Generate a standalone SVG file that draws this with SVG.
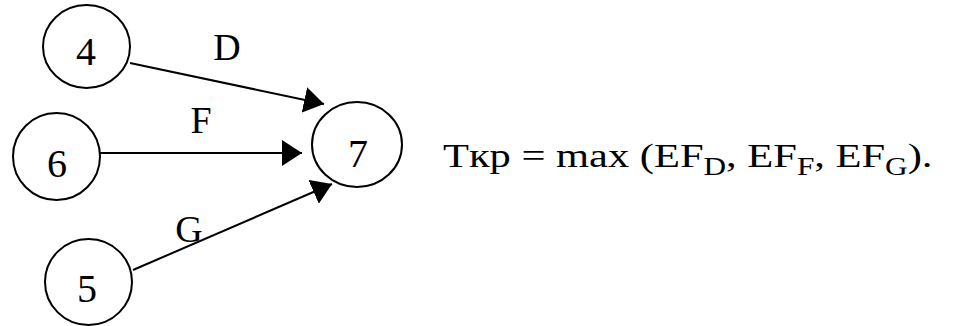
<svg xmlns="http://www.w3.org/2000/svg" width="957" height="326" viewBox="0 0 957 326">
<style>
.node ellipse{fill:#fff;stroke:#000;stroke-width:2}
.node text{font-family:"Liberation Serif","Times New Roman",serif;font-size:40px;text-anchor:middle;fill:#000}
.lbl{font-family:"Liberation Serif","Times New Roman",serif;font-size:38px;text-anchor:middle;fill:#000}
.edge{stroke:#000;stroke-width:2;fill:none;marker-end:url(#arr)}
.formula{font-family:"Liberation Serif","Times New Roman",serif;font-size:34px;fill:#000}
</style>
<defs>
<marker id="arr" markerUnits="userSpaceOnUse" markerWidth="22" markerHeight="26" refX="20" refY="13" orient="auto">
<path d="M0,0 L20,13 L0,26 z" fill="#000"/>
</marker>
</defs>
<rect width="957" height="326" fill="#fff"/>
<g id="connectors">
<line class="edge" x1="130" y1="63" x2="324" y2="104"/>
<line class="edge" x1="100" y1="153" x2="302" y2="153"/>
<line class="edge" x1="133" y1="270" x2="332" y2="184"/>
<text class="lbl" x="227" y="60">D</text>
<text class="lbl" x="201" y="133">F</text>
<text class="lbl" x="189" y="242">G</text>
</g>
<g id="node4" class="node"><ellipse cx="86.5" cy="46.5" rx="43.5" ry="41.5"/><text x="86" y="65">4</text></g>
<g id="node6" class="node"><ellipse cx="56.5" cy="156.5" rx="43.5" ry="43.5"/><text x="57" y="177">6</text></g>
<g id="node5" class="node"><ellipse cx="88.5" cy="282" rx="43.5" ry="43"/><text x="87" y="302">5</text></g>
<g id="node7" class="node"><ellipse cx="357" cy="144.5" rx="45" ry="42.5"/><text x="358" y="167">7</text></g>
<text class="formula" transform="translate(443,167) scale(1.25,1)">Tкр = max (EF<tspan dy="8" font-size="25">D</tspan><tspan dy="-8">, EF</tspan><tspan dy="8" font-size="25">F</tspan><tspan dy="-8">, EF</tspan><tspan dy="8" font-size="25">G</tspan><tspan dy="-8">).</tspan></text>
</svg>
